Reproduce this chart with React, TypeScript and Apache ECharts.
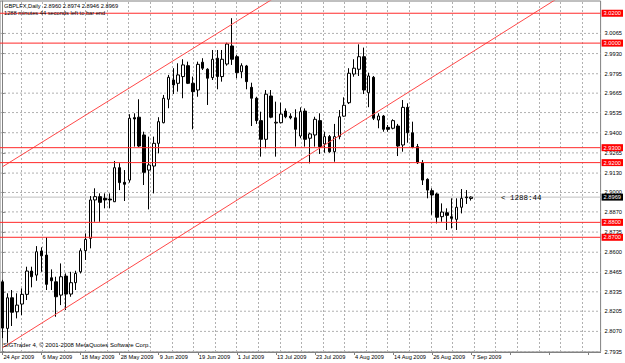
import { useEffect, useRef } from "react";
import * as echarts from "echarts";

const SYMBOL = "GBPLFX,Daily";
const TITLE_LINE = "GBPLFX,Daily  2.8960 2.8974 2.8946 2.8969";
const SUBTITLE = "1288 minutes 44 seconds left to bar end";
const COPYRIGHT = "SIGTrader 4, © 2001-2008 MetaQuotes Software Corp.";
const TIMER = "< 1288:44";

const OPEN = [
  2.8402, 2.8090, 2.8295, 2.8201, 2.8253, 2.8318, 2.8474, 2.8447, 2.8608, 2.8581,
  2.8429, 2.8402, 2.8313, 2.8440, 2.8320, 2.8396, 2.8469, 2.8610, 2.8693, 2.8950,
  2.8972, 2.8961, 2.8956, 2.8938, 2.9166, 2.9068, 2.9083, 2.9501, 2.9504, 2.9385,
  2.9150, 2.9177, 2.9329, 2.9467, 2.9624, 2.9753, 2.9731, 2.9776, 2.9849, 2.9731,
  2.9686, 2.9872, 2.9825, 2.9769, 2.9899, 2.9776, 2.9860, 2.9981, 2.9909, 2.9808,
  2.9847, 2.9704, 2.9631, 2.9481, 2.9356, 2.9646, 2.9465, 2.9467, 2.9545, 2.9511,
  2.9500, 2.9378, 2.9545, 2.9363, 2.9385, 2.9481, 2.9325, 2.9374, 2.9273, 2.9374,
  2.9511, 2.9601, 2.9793, 2.9825, 2.9909, 2.9668, 2.9771, 2.9485, 2.9512, 2.9436,
  2.9430, 2.9445, 2.9318, 2.9570, 2.9400, 2.9307, 2.9199, 2.9088, 2.9012, 2.8990,
  2.8838, 2.8864, 2.8838, 2.8820, 2.8901, 2.8970, 2.8960,
];
const HIGH = [
  2.8415, 2.8325, 2.8347, 2.8325, 2.8358, 2.8503, 2.8503, 2.8641, 2.8633, 2.8700,
  2.8485, 2.8436, 2.8525, 2.8458, 2.8469, 2.8476, 2.8626, 2.8726, 2.8976, 2.9028,
  2.8994, 2.8994, 2.8994, 2.9211, 2.9196, 2.9150, 2.9524, 2.9530, 2.9624, 2.9407,
  2.9374, 2.9374, 2.9504, 2.9653, 2.9787, 2.9832, 2.9865, 2.9892, 2.9876, 2.9776,
  2.9876, 2.9899, 2.9832, 2.9954, 2.9954, 2.9954, 3.0003, 3.0167, 2.9921, 2.9865,
  2.9854, 2.9735, 2.9641, 2.9541, 2.9686, 2.9686, 2.9608, 2.9601, 2.9563, 2.9530,
  2.9557, 2.9570, 2.9563, 2.9400, 2.9507, 2.9530, 2.9407, 2.9385, 2.9459, 2.9552,
  2.9637, 2.9832, 2.9892, 2.9992, 2.9970, 2.9802, 2.9780, 2.9530, 2.9519, 2.9452,
  2.9490, 2.9459, 2.9619, 2.9597, 2.9474, 2.9325, 2.9217, 2.9095, 2.9028, 2.8998,
  2.8927, 2.8894, 2.8961, 2.8961, 2.9023, 2.9016, 2.8974,
];
const LOW = [
  2.8025, 2.7994, 2.8106, 2.8157, 2.8179, 2.8280, 2.8365, 2.8409, 2.8469, 2.8347,
  2.8347, 2.8168, 2.8246, 2.8213, 2.8302, 2.8347, 2.8458, 2.8548, 2.8626, 2.8804,
  2.8804, 2.8894, 2.8894, 2.8936, 2.9016, 2.8943, 2.9066, 2.9307, 2.9304, 2.9050,
  2.8887, 2.8994, 2.9262, 2.9463, 2.9564, 2.9659, 2.9675, 2.9631, 2.9726, 2.9423,
  2.9641, 2.9820, 2.9586, 2.9753, 2.9691, 2.9742, 2.9849, 2.9854, 2.9765, 2.9765,
  2.9691, 2.9445, 2.9459, 2.9240, 2.9296, 2.9497, 2.9240, 2.9463, 2.9497, 2.9490,
  2.9307, 2.9363, 2.9307, 2.9195, 2.9307, 2.9258, 2.9266, 2.9266, 2.9206, 2.9356,
  2.9507, 2.9592, 2.9775, 2.9780, 2.9659, 2.9571, 2.9485, 2.9430, 2.9407, 2.9407,
  2.9423, 2.9244, 2.9273, 2.9333, 2.9296, 2.9191, 2.9050, 2.8961, 2.8851, 2.8793,
  2.8804, 2.8749, 2.8760, 2.8749, 2.8860, 2.8923, 2.8946,
];
const CLOSE = [
  2.8092, 2.8295, 2.8198, 2.8246, 2.8318, 2.8474, 2.8436, 2.8603, 2.8576, 2.8385,
  2.8409, 2.8302, 2.8436, 2.8320, 2.8396, 2.8458, 2.8610, 2.8686, 2.8950, 2.8972,
  2.8934, 2.8950, 2.8950, 2.9166, 2.9066, 2.9055, 2.9497, 2.9492, 2.9311, 2.9135,
  2.9184, 2.9329, 2.9474, 2.9631, 2.9771, 2.9720, 2.9787, 2.9854, 2.9731, 2.9675,
  2.9858, 2.9832, 2.9765, 2.9892, 2.9776, 2.9892, 2.9994, 2.9892, 2.9802, 2.9849,
  2.9742, 2.9631, 2.9481, 2.9356, 2.9658, 2.9504, 2.9470, 2.9525, 2.9507, 2.9500,
  2.9423, 2.9541, 2.9356, 2.9392, 2.9490, 2.9307, 2.9374, 2.9273, 2.9374, 2.9507,
  2.9584, 2.9798, 2.9832, 2.9909, 2.9686, 2.9780, 2.9497, 2.9512, 2.9423, 2.9423,
  2.9481, 2.9311, 2.9570, 2.9400, 2.9302, 2.9199, 2.9083, 2.9016, 2.8983, 2.8834,
  2.8869, 2.8847, 2.8827, 2.8901, 2.8961, 2.8965, 2.8969,
];

// price-axis tick labels
const Y_TICKS = [
  2.7935, 2.807, 2.8205, 2.8335, 2.8465, 2.86, 2.8735, 2.887, 2.9, 2.913,
  2.9265, 2.94, 2.9535, 2.9665, 2.9795, 2.993, 3.0065,
];
// horizontal levels (red)
const LEVELS = [3.02, 3.0, 2.93, 2.92, 2.88, 2.87];
const BID = 2.8969;
// trend lines: [bar index, price]
const CHANNEL_LOWER = [[0, 2.796], [120, 3.043]];
const CHANNEL_UPPER = [[0, 2.9172], [60, 3.039]];

const MONTHS = ["Jan", "Feb", "Mar", "Apr", "May", "Jun", "Jul", "Aug", "Sep", "Oct", "Nov", "Dec"];
const FIRST_DAY = Date.UTC(2009, 3, 24);
const SLOTS = 123;
const X_MIN = -0.5;
const X_MAX = SLOTS - 0.5;

function tradingDays(n: number): string[] {
  const out: string[] = [];
  let t = FIRST_DAY;
  while (out.length < n) {
    const d = new Date(t);
    const wd = d.getUTCDay();
    if (wd !== 0 && wd !== 6) {
      out.push(`${d.getUTCDate()} ${MONTHS[d.getUTCMonth()]} ${d.getUTCFullYear()}`);
    }
    t += 86400000;
  }
  return out;
}

const FONT = '"Liberation Sans", Arial, sans-serif';
const FS = 5.7;
const GRID_COLOR = "#b0b0b0";

function hLine(name: string, v: number, color: string, box: string | null, z: number, dashed = false): any {
  return {
    name,
    type: "line",
    xAxisIndex: 1,
    data: [[X_MIN, v], [X_MAX, v]],
    symbol: "none",
    silent: true,
    clip: false,
    z,
    lineStyle: { color, width: 1, type: dashed ? [2, 2] : "solid" },
    emphasis: { disabled: true },
    endLabel: box
      ? {
          show: true,
          distance: 1,
          formatter: () => v.toFixed(4),
          backgroundColor: box,
          color: "#ffffff",
          fontSize: FS,
          fontFamily: FONT,
          padding: [1, 2, 0, 2],
        }
      : { show: false },
  };
}

export default function App() {
  const ref = useRef<HTMLDivElement>(null);
  useEffect(() => {
    if (!ref.current) return;
    const chart = echarts.init(ref.current, null, { renderer: "svg" });
    const dates = tradingDays(OPEN.length);
    const cats = dates.concat(
      Array.from({ length: SLOTS - dates.length }, (_, i) => `+${i + 1}`)
    );
    const candles = OPEN.map((o, i) => [o, CLOSE[i], LOW[i], HIGH[i]]);
    const vgrid: number[] = [];
    for (let v = 3.76; v < X_MAX; v += 4.42) vgrid.push(+v.toFixed(3));

    const series: any[] = [];
    Y_TICKS.forEach((v, i) => series.push(hLine(`grid${i}`, v, GRID_COLOR, null, 1, true)));
    series.push({
      name: "vgrid",
      type: "line",
      xAxisIndex: 1,
      data: [],
      z: 1,
      markLine: {
        z: 1,
        silent: true,
        symbol: "none",
        label: { show: false },
        lineStyle: { type: [2, 2], color: GRID_COLOR, width: 1 },
        data: vgrid.map((v) => ({ xAxis: v })),
      },
    });
    series.push(hLine("bid", BID, "#c0c0c0", "#000000", 1.5));
    series.push({
      name: SYMBOL,
      type: "candlestick",
      data: candles,
      barWidth: 3,
      z: 2,
      itemStyle: {
        color: "#ffffff",
        color0: "#000000",
        borderColor: "#000000",
        borderColor0: "#000000",
        borderWidth: 1,
      },
    });
    [CHANNEL_LOWER, CHANNEL_UPPER].forEach((d, i) =>
      series.push({
        name: `channel${i}`,
        type: "line",
        xAxisIndex: 1,
        data: d,
        clip: true,
        symbol: "none",
        silent: true,
        z: 3,
        lineStyle: { color: "#ff4848", width: 1 },
      })
    );
    LEVELS.forEach((v, i) => series.push(hLine(`level${i}`, v, "#ff2a2a", "#ff0000", 4)));

    const option: any = {
      animation: false,
      backgroundColor: "#ffffff",
      textStyle: { fontFamily: FONT },
      grid: {
        left: 0,
        right: 24,
        top: 1,
        bottom: 11,
        show: true,
        borderColor: "#808080",
        borderWidth: 1,
      },
      xAxis: [
        {
          type: "category",
          data: cats,
          boundaryGap: true,
          axisLine: { show: true, lineStyle: { color: "#808080" } },
          axisTick: {
            show: true,
            interval: 7,
            alignWithLabel: true,
            length: 3,
            lineStyle: { color: "#808080" },
          },
          axisLabel: {
            interval: 7,
            align: "left",
            margin: 2,
            fontSize: FS,
            color: "#000",
            fontFamily: FONT,
            padding: [0, 0, 0, 1],
            formatter: (_v: string, idx: number) => (idx < dates.length ? dates[idx] : ""),
          },
          splitLine: { show: false },
        },
        { type: "value", min: X_MIN, max: X_MAX, show: false },
      ],
      yAxis: {
        type: "value",
        position: "right",
        min: 2.7932,
        max: 3.0282,
        axisLine: { show: true, lineStyle: { color: "#808080" } },
        axisTick: { show: true, length: 3, customValues: Y_TICKS, lineStyle: { color: "#808080" } },
        axisLabel: {
          customValues: Y_TICKS,
          formatter: (v: number) => v.toFixed(4),
          margin: 4,
          fontSize: FS,
          color: "#000",
          fontFamily: FONT,
        },
        splitLine: { show: false },
      },
      series,
      graphic: [
        {
          type: "text",
          z: 10,
          style: { x: 4, y: 6, text: TITLE_LINE, fill: "#000", font: `${FS}px ${FONT}`, verticalAlign: "middle" },
        },
        {
          type: "text",
          z: 10,
          style: { x: 4, y: 13, text: SUBTITLE, fill: "#000", font: `${FS}px ${FONT}`, verticalAlign: "middle" },
        },
        {
          type: "text",
          z: 10,
          style: { x: 3, y: 345, text: COPYRIGHT, fill: "#000", font: `6px ${FONT}`, verticalAlign: "middle" },
        },
        {
          type: "text",
          z: 10,
          style: { x: 501, y: 198, text: TIMER, fill: "#000", font: `7.5px "Liberation Mono", monospace`, verticalAlign: "middle" },
        },
      ],
    };
    chart.setOption(option);
    return () => chart.dispose();
  }, []);
  return (
    <div
      ref={ref}
      style={{ position: "absolute", left: 0, top: 0, width: 625, height: 363 }}
    />
  );
}
